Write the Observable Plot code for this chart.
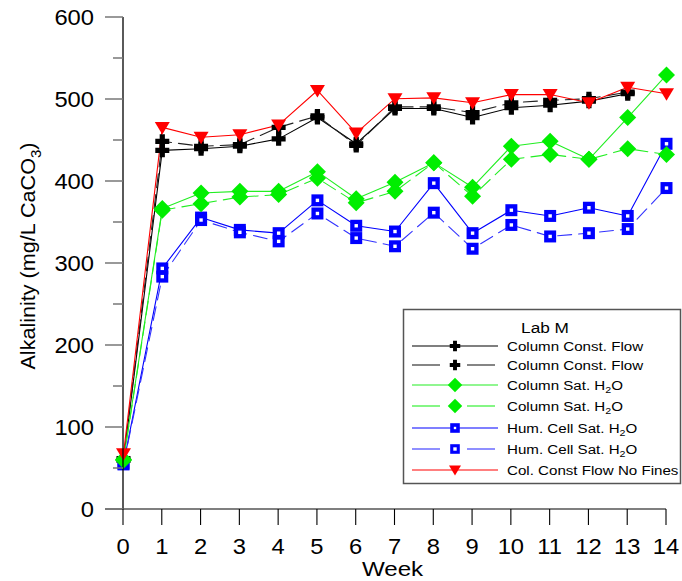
<!DOCTYPE html>
<html><head><meta charset="utf-8">
<script src="https://cdn.jsdelivr.net/npm/d3@7"></script>
<script src="https://cdn.jsdelivr.net/npm/@observablehq/plot@0.6"></script>
<style>body{margin:0;background:#fff;} svg{font-family:"Liberation Sans",Arial,sans-serif;}</style>
</head><body><div id="chart"></div>
<script>
const weeks = [0,1,2,3,4,5,6,7,8,9,10,11,12,13,14];
const colFlowSolid  = [60, 438, 440, 443, 452, 478, 446, 489, 489, 478, 490, 493, 498, 507];
const colFlowDashed = [62, 449, 443, 445, 466, 480, 444, 491, 491, 484, 496, 499, 501, 509];
const colSatSolid   = [61, 367, 386, 388, 388, 412, 379, 399, 423, 393, 443, 449, 427, 478, 530];
const colSatDashed  = [60, 365, 373, 381, 384, 404, 374, 388, 423, 382, 427, 433, 427, 440, 433];
const humSolid      = [56, 294, 356, 341, 337, 377, 346, 339, 398, 337, 365, 358, 368, 358, 446];
const humDashed     = [55, 284, 353, 338, 327, 361, 331, 321, 362, 318, 347, 333, 337, 342, 392];
const noFines       = [68, 466, 454, 457, 469, 511, 459, 501, 502, 496, 506, 506, 496, 515, 507];
const yTicks = [0,100,200,300,400,500,600];
const legendTitle = "Lab M";

const plusSym = {draw(c){const a=7,t=2.6;c.moveTo(-t,-a);c.lineTo(t,-a);c.lineTo(t,-t);c.lineTo(a,-t);c.lineTo(a,t);c.lineTo(t,t);c.lineTo(t,a);c.lineTo(-t,a);c.lineTo(-t,t);c.lineTo(-a,t);c.lineTo(-a,-t);c.lineTo(-t,-t);c.closePath();}};
const diamondSym = {draw(c){const a=8.5;c.moveTo(0,-a);c.lineTo(a,0);c.lineTo(0,a);c.lineTo(-a,0);c.closePath();}};
const squareSym = {draw(c){const a=6;c.moveTo(-a,-a);c.lineTo(a,-a);c.lineTo(a,a);c.lineTo(-a,a);c.closePath();}};
const innerSym = {draw(c){const a=1.7;c.moveTo(-a,-a);c.lineTo(a,-a);c.lineTo(a,a);c.lineTo(-a,a);c.closePath();}};
const triSym = {draw(c){c.moveTo(-7.5,-5.5);c.lineTo(7.5,-5.5);c.lineTo(0,7);c.closePath();}};

const series = [
  {name:"Column Const. Flow", values:colFlowSolid, color:"#000000", line:"#000000", dash:null, sym:plusSym},
  {name:"Column Const. Flow", values:colFlowDashed, color:"#000000", line:"#222222", dash:"14,7", sym:plusSym},
  {name:"Hum. Cell Sat. H2O", values:humSolid, color:"#0000ff", line:"#0000ff", dash:null, sym:squareSym, inner:true},
  {name:"Hum. Cell Sat. H2O", values:humDashed, color:"#0000ff", line:"#3333ff", dash:"14,7", sym:squareSym, inner:true},
  {name:"Column Sat. H2O", values:colSatSolid, color:"#00ee00", line:"#22ee22", dash:null, sym:diamondSym},
  {name:"Column Sat. H2O", values:colSatDashed, color:"#00ee00", line:"#22ee22", dash:"14,7", sym:diamondSym},
  {name:"Col. Const Flow No Fines", values:noFines, color:"#ff0000", line:"#ff0000", dash:null, sym:triSym}
];

const marks = [];
series.forEach(s => {
  const d = s.values.map((v,j)=>({week:weeks[j], value:v}));
  marks.push(Plot.line(d, {x:"week", y:"value", stroke:s.line, strokeWidth:1.1, strokeDasharray:s.dash ?? undefined}));
});
series.forEach(s => {
  const d = s.values.map((v,j)=>({week:weeks[j], value:v}));
  marks.push(Plot.dot(d, {x:"week", y:"value", symbol:s.sym, fill:s.color, stroke:"none", r:5}));
  if (s.inner) marks.push(Plot.dot(d, {x:"week", y:"value", symbol:innerSym, fill:"#ffffff", stroke:"none", r:2}));
});

const plot = Plot.plot({
  width:682, height:581,
  marginLeft:123, marginRight:16, marginTop:17, marginBottom:72,
  x:{domain:[0,14], axis:null},
  y:{domain:[0,600], axis:null},
  marks
});
document.getElementById("chart").appendChild(plot);

const svg = d3.select(plot);
const xs = plot.scale("x"), ys = plot.scale("y");
const X = v => xs.apply(v), Y = v => ys.apply(v);
const ax = svg.append("g").attr("text-anchor","start");
function label(g, x, y, txt, size, sx, anchor) {
  return g.append("text").attr("transform",`translate(${x},${y}) scale(${sx},1)`).attr("dy","0.36em")
    .attr("text-anchor",anchor).attr("font-size",size).attr("fill","#000").text(txt);
}
ax.append("line").attr("x1",X(0)).attr("x2",X(0)).attr("y1",Y(0)).attr("y2",Y(600)).attr("stroke","#000").attr("stroke-width",1.3);
ax.append("line").attr("x1",X(0)-18).attr("x2",X(14)).attr("y1",Y(0)).attr("y2",Y(0)).attr("stroke","#555").attr("stroke-width",1.3);
for (let v=50; v<600; v+=100) {
  ax.append("line").attr("x1",X(0)-10).attr("x2",X(0)).attr("y1",Y(v)).attr("y2",Y(v)).attr("stroke","#777").attr("stroke-width",1.5);
}
yTicks.forEach(v => {
  ax.append("line").attr("x1",X(0)-18).attr("x2",X(0)).attr("y1",Y(v)).attr("y2",Y(v)).attr("stroke","#777").attr("stroke-width",1.5);
  label(ax, X(0)-29, Y(v)+0.5, v, 22, 1.08, "end");
});
weeks.forEach(w => {
  ax.append("line").attr("x1",X(w)).attr("x2",X(w)).attr("y1",Y(0)).attr("y2",Y(0)+16).attr("stroke","#000").attr("stroke-width",1.1);
  label(ax, X(w), Y(0)+37, w, 22, 1.08, "middle");
});
label(ax, (X(0)+X(14))/2 - 2, Y(0)+59, "Week", 21, 1.15, "middle");
const yl = ax.append("text").attr("transform",`translate(35,256) rotate(-90) scale(1.08,1)`).attr("text-anchor","middle").attr("font-size",20);
yl.append("tspan").text("Alkalinity (mg/L CaCO");
yl.append("tspan").attr("font-size",14).attr("dy","0.4em").text("3");
yl.append("tspan").attr("dy","-0.3em").text(")");

// legend
const lg = svg.append("g").attr("text-anchor","start");
lg.append("rect").attr("x",403.5).attr("y",309.5).attr("width",277).attr("height",174).attr("fill","#fff").attr("stroke","#555").attr("stroke-width",1.5);
label(lg, 545, 328, legendTitle, 15, 1.15, "middle");
const legendOrder = [0,1,4,5,2,3,6];
const rowY = [346,365,385,406,428,449,470];
legendOrder.forEach((si,k) => {
  const s = series[si], yy = rowY[k];
  if (s.dash) {
    lg.append("line").attr("x1",412).attr("x2",440).attr("y1",yy).attr("y2",yy).attr("stroke",s.line).attr("stroke-width",1.1);
    lg.append("line").attr("x1",467).attr("x2",495).attr("y1",yy).attr("y2",yy).attr("stroke",s.line).attr("stroke-width",1.1);
  } else {
    lg.append("line").attr("x1",412).attr("x2",498).attr("y1",yy).attr("y2",yy).attr("stroke",s.line).attr("stroke-width",1.1);
  }
  const scale = s.sym===diamondSym ? 0.85 : (s.sym===plusSym ? 0.75 : 0.8);
  lg.append("path").attr("transform",`translate(455,${yy}) scale(${scale})`).attr("d", d3.symbol(s.sym)()).attr("fill",s.color);
  if (s.inner) lg.append("path").attr("transform",`translate(455,${yy}) scale(${k===4?0.7:1.0})`).attr("d", d3.symbol(innerSym)()).attr("fill","#fff");
  const t = lg.append("text").attr("transform",`translate(507,${yy}) scale(1.12,1)`).attr("dy","0.36em").attr("font-size",13.5).attr("text-anchor","start");
  if (s.name.endsWith("H2O")) {
    t.append("tspan").text(s.name.slice(0,-3)+"H");
    t.append("tspan").attr("font-size",9.5).attr("dy","0.35em").text("2");
    t.append("tspan").attr("dy","-0.25em").text("O");
  } else t.text(s.name);
});
</script></body></html>
